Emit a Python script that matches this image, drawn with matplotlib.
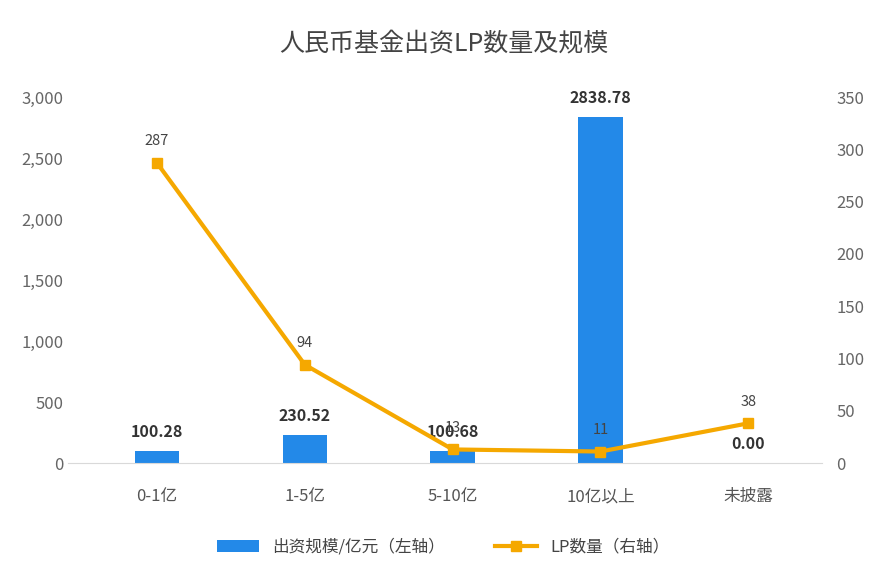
import matplotlib
matplotlib.use("Agg")
import matplotlib.pyplot as plt
from matplotlib import font_manager
from matplotlib.ticker import FuncFormatter

names = {f.name for f in font_manager.fontManager.ttflist}
cjk = [n for n in ["Noto Sans CJK SC", "Noto Sans CJK JP", "Noto Sans CJK TC", "Noto Sans CJK KR",
                   "Noto Sans SC", "Source Han Sans SC"] if n in names]
if not cjk:
    cjk = [n for n in names if "CJK" in n]
plt.rcParams["font.family"] = cjk + ["DejaVu Sans"]

categories = ["0-1亿", "1-5亿", "5-10亿", "10亿以上", "未披露"]
scale = [100.28, 230.52, 100.68, 2838.78, 0.00]
lp_count = [287, 94, 13, 11, 38]
left_ticks = [0, 500, 1000, 1500, 2000, 2500, 3000]
right_ticks = [0, 50, 100, 150, 200, 250, 300, 350]

fig = plt.figure(figsize=(8.87, 5.79), dpi=100)
ax = fig.add_axes([0.077, 0.2003, 0.85, 0.632])
ax2 = ax.twinx()
x = list(range(len(categories)))
bars = ax.bar(x, scale, width=0.3, color="#2389E8", zorder=2)
ax.set_ylim(0, 3000)
ax.set_yticks(left_ticks)
ax.yaxis.set_major_formatter(FuncFormatter(lambda v, p: f"{int(v):,}"))
ax.set_xlim(-0.6, 4.5)
ax.set_xticks(x)
ax.set_xticklabels(categories)
for xi, v in zip(x, scale):
    ax.text(xi, v + 90, f"{v:.2f}", ha="center", va="bottom", fontsize=11.5, fontweight="bold", color="#333333")

line, = ax2.plot(x, lp_count, color="#F5A800", lw=3, marker="s", ms=7, zorder=3)
ax2.set_ylim(0, 350)
ax2.set_yticks(right_ticks)
for xi, v in zip(x, lp_count):
    ax2.text(xi, v + 14, f"{v}", ha="center", va="bottom", fontsize=10.5, color="#444444")

for a in (ax, ax2):
    for s in a.spines.values():
        s.set_visible(False)
    a.tick_params(length=0, labelsize=12, colors="#666666")
ax.spines["bottom"].set_visible(True)
ax.spines["bottom"].set_color("#D9D9D9")
ax.tick_params(axis="x", pad=18, labelsize=12, colors="#555555")
ax2.tick_params(axis="y", pad=10)

fig.text(0.5, 0.925, "人民币基金出资LP数量及规模", ha="center", va="center", fontsize=18, color="#444444")
fig.legend([bars, line], ["出资规模/亿元（左轴）", "LP数量（右轴）"], loc="center", bbox_to_anchor=(0.5, 0.055),
           ncol=2, frameon=False, fontsize=12, labelcolor="#444444", columnspacing=3, handlelength=2.5)
fig.savefig("out.png", dpi=100)
